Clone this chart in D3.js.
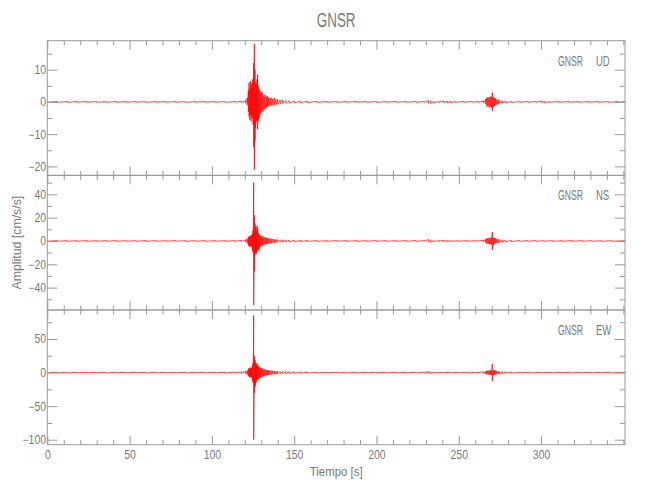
<!DOCTYPE html>
<html><head><meta charset="utf-8">
<script src="https://cdn.jsdelivr.net/npm/d3@7"></script>
<style>
body{margin:0;background:#fff}
text{font-family:"Liberation Sans",Arial,sans-serif;fill:#7a7a7a}
</style>
</head><body>
<svg id="c" width="650" height="500"></svg>
<script>
// ---------- data ----------
const chartTitle = "GNSR";
const station = "GNSR";
const components = ["UD", "NS", "EW"];
const xLabel = "Tiempo [s]";
const yLabel = "Amplitud [cm/s/s]";
const timeDomain = [0, 351];
const xMajorTicks = [0, 50, 100, 150, 200, 250, 300];
const udTicks = [-20, -10, 0, 10];
const nsTicks = [-40, -20, 0, 20, 40];
const ewTicks = [-100, -50, 0, 50];
const udRange = [-22.8, 19.0];
const nsRange = [-59.2, 56.3];
const ewRange = [-107.4, 93.2];

// envelope samples: [time s, max, min]
const udEnv = [[0,.1,-.1],[6,.12,-.1],[12,.1,-.12],[18,.1,-.1],[24,.12,-.1],[30,.1,-.1],[36,.1,-.12],[42,.12,-.1],[48,.1,-.1],[54,.1,-.1],[60,.12,-.12],[66,.1,-.1],[72,.1,-.1],[78,.12,-.1],[84,.1,-.12],[90,.1,-.1],[96,.12,-.1],[102,.1,-.1],[108,.1,-.12],[114,.12,-.1],[118,.2,-.2],[120.5,.4,-.4],[121.5,1.2,-1],[122.2,3.5,-3],[122.6,6,-4.5],[123,4,-5.5],[123.4,6.5,-4],[123.8,4.5,-6],[124.2,5.5,-4.5],[124.6,7,-5],[125,6,-7],[125.4,12,-14],[125.8,18,-21],[126.2,10,-12],[126.6,6,-8],[127,5.5,-6],[127.4,7,-5.5],[127.8,8.5,-8.5],[128.2,5,-6],[128.7,4,-5],[129.2,3.5,-4],[129.8,3,-3.5],[130.4,3.2,-3],[131,2.5,-3],[131.7,2,-2.5],[132.4,2.2,-2],[133.1,1.6,-1.8],[133.8,1.8,-1.5],[134.5,1.4,-1.2],[135.3,1.2,-1.3],[136.1,1.3,-1.1],[137,1,-1.1],[138,1.2,-.9],[139,.8,-.9],[140,.8,-.7],[141.5,.6,-.6],[143,.55,-.5],[145,.5,-.45],[147,.4,-.4],[150,.3,-.3],[154,.25,-.25],[158,.2,-.2],[164,.15,-.15],[170,.1,-.1],[176,.1,-.1],[182,.12,-.1],[188,.1,-.1],[194,.1,-.1],[200,.1,-.12],[206,.1,-.1],[212,.12,-.1],[218,.1,-.1],[224,.1,-.1],[229,.1,-.1],[231.5,.45,-.35],[233,.35,-.45],[235,.15,-.15],[238,.1,-.1],[241,.3,-.25],[243,.25,-.3],[245,.2,-.2],[248,.1,-.1],[253,.1,-.1],[258,.1,-.1],[262,.15,-.15],[265,.3,-.25],[266.3,.8,-.7],[267,1.2,-1.4],[267.7,1.5,-1.3],[268.4,1.4,-1.6],[269.1,1.7,-1.5],[269.8,1.5,-1.8],[270.4,2.9,-2.8],[271,1.5,-1.6],[271.7,1.2,-1.2],[272.4,1.1,-1],[273.2,.8,-.9],[274,.7,-.6],[275,.5,-.5],[276.5,.35,-.35],[278.5,.25,-.25],[282,.15,-.15],[287,.1,-.1],[292,.1,-.1],[297,.1,-.1],[300.5,.3,-.25],[302,.25,-.25],[305,.1,-.1],[311,.1,-.1],[317,.1,-.1],[323,.1,-.1],[329,.1,-.1],[335,.1,-.1],[341,.1,-.1],[347,.1,-.1],[351,.1,-.1]];

const nsEnv = [[0,.25,-.25],[6,.3,-.25],[12,.25,-.3],[18,.25,-.25],[24,.3,-.25],[30,.25,-.25],[36,.25,-.3],[42,.3,-.25],[48,.25,-.25],[54,.25,-.25],[60,.3,-.3],[66,.25,-.25],[72,.25,-.25],[78,.3,-.25],[84,.25,-.3],[90,.25,-.25],[96,.3,-.25],[102,.25,-.25],[108,.25,-.3],[114,.3,-.25],[118,.5,-.5],[120.5,1,-1],[121.5,2,-2],[122.2,3,-3.5],[122.6,4,-4.5],[123,3.5,-5],[123.4,4.5,-4],[123.8,4,-5],[124.2,5,-4.5],[124.6,6,-8],[125,9,-10],[125.4,50,-55],[125.8,22,-26],[126.2,15,-12],[126.6,12,-10],[127,9,-11],[127.4,13,-9],[127.8,11,-8],[128.2,7,-8],[128.7,6,-7],[129.2,5,-5.5],[129.8,4.5,-4],[130.4,4,-4.5],[131,4,-3.5],[131.7,3.5,-3],[132.4,3,-3],[133.1,2.8,-2.6],[133.8,2.5,-2.5],[134.5,2.2,-2.2],[135.3,2,-2.2],[136.1,2,-1.8],[137,1.8,-1.6],[138,1.5,-1.5],[139,1.3,-1.3],[140,1.2,-1.1],[141.5,1,-1],[143,.9,-.9],[145,.8,-.8],[147,.7,-.7],[150,.55,-.55],[154,.45,-.45],[158,.4,-.35],[164,.3,-.3],[170,.25,-.25],[176,.3,-.25],[182,.25,-.25],[188,.25,-.3],[194,.25,-.25],[200,.3,-.25],[206,.25,-.25],[212,.25,-.3],[218,.25,-.25],[224,.3,-.25],[229,.25,-.25],[231.5,1.2,-1],[233,1,-1.2],[235,.4,-.4],[238,.25,-.25],[241,.6,-.5],[243,.5,-.6],[245,.3,-.3],[250,.25,-.25],[255,.3,-.25],[260,.25,-.25],[265,.6,-.6],[266.3,1.5,-1.5],[267,2,-2.2],[267.7,2.5,-2.3],[268.4,2.4,-2.6],[269.1,3,-2.8],[269.8,2.8,-3.2],[270.4,7.7,-7.7],[271,3,-3.5],[271.7,2.5,-2.5],[272.4,2.2,-2],[273.2,1.8,-1.9],[274,1.5,-1.5],[275,1.2,-1.2],[276.5,1,-1],[278.5,.7,-.7],[282,.45,-.45],[287,.3,-.3],[292,.25,-.25],[297,.3,-.25],[302,.25,-.25],[307,.25,-.3],[313,.25,-.25],[319,.3,-.25],[325,.25,-.25],[331,.25,-.25],[337,.25,-.3],[343,.25,-.25],[351,.25,-.25]];

const ewEnv = [[0,.5,-.5],[6,.6,-.5],[12,.5,-.6],[18,.5,-.5],[24,.6,-.5],[30,.5,-.5],[36,.5,-.6],[42,.6,-.5],[48,.5,-.5],[54,.5,-.5],[60,.6,-.6],[66,.5,-.5],[72,.5,-.5],[78,.6,-.5],[84,.5,-.6],[90,.5,-.5],[96,.6,-.5],[102,.5,-.5],[108,.5,-.6],[114,.6,-.5],[118,1,-1],[120.5,2,-2],[121.5,3,-3],[122.2,5,-5],[122.6,7,-6],[123,6,-7],[123.4,7.5,-6],[123.8,6,-7.5],[124.2,7,-6],[124.6,10,-12],[125,14,-15],[125.4,85,-100],[125.8,25,-30],[126.2,19,-21],[126.6,15,-18],[127,12,-14],[127.4,14,-11],[127.8,11,-10],[128.2,10,-10],[128.7,8,-9],[129.2,8,-8],[129.8,7,-7],[130.4,6.5,-7],[131,6,-6],[131.7,5,-5],[132.4,4.5,-4.5],[133.1,4,-4.5],[133.8,3.8,-3.5],[134.5,3.5,-3.5],[135.3,3,-3.2],[136.1,3,-2.8],[137,2.8,-2.5],[138,2.5,-2.5],[139,2.2,-2.2],[140,2,-2],[141.5,1.8,-1.8],[143,1.7,-1.7],[145,1.6,-1.5],[147,1.4,-1.4],[150,1.2,-1.2],[154,1,-1],[158,.8,-.8],[164,.6,-.6],[170,.5,-.5],[176,.6,-.5],[182,.5,-.5],[188,.5,-.6],[194,.5,-.5],[200,.6,-.5],[206,.5,-.5],[212,.5,-.6],[218,.5,-.5],[224,.6,-.5],[229,.5,-.5],[231.5,1.4,-1.2],[233,1.2,-1.4],[235,.6,-.6],[240,.5,-.5],[245,.6,-.5],[250,.5,-.5],[255,.5,-.6],[260,.5,-.5],[265,1.2,-1.2],[266.3,2,-2],[267,2.5,-2.5],[267.7,3,-2.8],[268.4,2.8,-3.2],[269.1,3.5,-3.2],[269.8,3.2,-3.6],[270.4,13,-12.3],[271,4,-4],[271.7,3.5,-3],[272.4,3,-3],[273.2,2.5,-2.5],[274,2,-2],[275,1.8,-1.8],[276.5,1.5,-1.5],[278.5,1.1,-1.1],[282,.8,-.8],[288,.5,-.5],[294,.6,-.5],[300,.5,-.5],[306,.5,-.6],[312,.5,-.5],[318,.6,-.5],[324,.5,-.5],[330,.5,-.6],[336,.5,-.5],[342,.6,-.5],[351,.5,-.5]];

// ---------- layout ----------
const left = 47.3, right = 625;
const panelTops = [40.7, 175.3, 310];
const panelH = 134.7;
const axisColor = "#9a9a9a";

const panels = [
  {comp: components[0], env: udEnv, range: udRange, ticks: udTicks, minorStep: 5},
  {comp: components[1], env: nsEnv, range: nsRange, ticks: nsTicks, minorStep: 10},
  {comp: components[2], env: ewEnv, range: ewRange, ticks: ewTicks, minorStep: 25}
];

const svg = d3.select("#c");
const x = d3.scaleLinear().domain(timeDomain).range([left, right]);
const xMinor = d3.range(0, timeDomain[1], 10);

function styleAxis(g){
  g.select(".domain").remove();
  g.selectAll("line").attr("stroke", axisColor).attr("stroke-width", 1);
}

panels.forEach((p, i) => {
  const top = panelTops[i], bottom = top + panelH;
  const y = d3.scaleLinear().domain(p.range).range([bottom, top]);
  const minor = d3.range(Math.ceil(p.range[0] / p.minorStep) * p.minorStep, p.range[1], p.minorStep)
    .filter(v => !p.ticks.includes(v));

  // trace (min/max envelope drawn as zigzag)
  const pts = [];
  p.env.forEach(d => { pts.push([d[0], d[1]]); pts.push([d[0], d[2]]); });
  svg.append("path")
    .attr("d", d3.line().x(d => x(d[0])).y(d => y(d[1]))(pts))
    .attr("fill", "none").attr("stroke", "#ff0000").attr("stroke-width", 0.85)
    .attr("stroke-opacity", 0.85);

  // y axes left
  const gl = svg.append("g").attr("transform", `translate(${left},0)`);
  gl.call(d3.axisLeft(y).tickValues(p.ticks).tickSizeInner(-10).tickSizeOuter(0).tickPadding(1.5)
    .tickFormat(d3.format("d")));
  gl.selectAll("text").attr("font-size", 12).attr("transform", "scale(0.87,1)").style("fill", "#7a7a7a");
  styleAxis(gl);
  const glm = svg.append("g").attr("transform", `translate(${left},0)`);
  glm.call(d3.axisLeft(y).tickValues(minor).tickSizeInner(-5).tickSizeOuter(0).tickFormat(""));
  styleAxis(glm);
  // y axes right
  const gr = svg.append("g").attr("transform", `translate(${right},0)`);
  gr.call(d3.axisRight(y).tickValues(p.ticks).tickSizeInner(-10).tickSizeOuter(0).tickFormat(""));
  styleAxis(gr);
  const grm = svg.append("g").attr("transform", `translate(${right},0)`);
  grm.call(d3.axisRight(y).tickValues(minor).tickSizeInner(-5).tickSizeOuter(0).tickFormat(""));
  styleAxis(grm);

  // x axes top/bottom
  [[d3.axisTop, top], [d3.axisBottom, bottom]].forEach(([ax, yy]) => {
    const g = svg.append("g").attr("transform", `translate(0,${yy})`);
    const isLabeled = (ax === d3.axisBottom && i === panels.length - 1);
    g.call(ax(x).tickValues(xMajorTicks).tickSizeInner(-9).tickSizeOuter(0).tickPadding(6)
      .tickFormat(isLabeled ? d3.format("d") : ""));
    g.selectAll("text").attr("font-size", 12).attr("transform", "scale(0.87,1)").style("fill", "#7a7a7a");
    styleAxis(g);
    const gm = svg.append("g").attr("transform", `translate(0,${yy})`);
    gm.call(ax(x).tickValues(xMinor.filter(v => !xMajorTicks.includes(v))).tickSizeInner(-4.5).tickSizeOuter(0).tickFormat(""));
    styleAxis(gm);
  });

  // frame
  svg.append("rect").attr("x", left).attr("y", top).attr("width", right - left).attr("height", panelH)
    .attr("fill", "none").attr("stroke", axisColor).attr("stroke-width", 1);

  // panel label
  svg.append("text").attr("transform", `translate(558,${top + 25}) scale(0.62,1)`)
    .attr("font-size", 14).text(station);
  svg.append("text").attr("transform", `translate(596,${top + 25}) scale(0.68,1)`)
    .attr("font-size", 14).text(p.comp);
});

// title and axis titles
svg.append("text").attr("transform", `translate(${(left + right) / 2},27) scale(0.64,1)`)
  .attr("text-anchor", "middle").attr("font-size", 21).text(chartTitle);
svg.append("text").attr("transform", `translate(${(left + right) / 2},476) scale(0.88,1)`)
  .attr("text-anchor", "middle").attr("font-size", 13).text(xLabel);
svg.append("text").attr("transform", `translate(21,${panelTops[1] + panelH / 2}) rotate(-90) scale(0.95,1)`)
  .attr("text-anchor", "middle").attr("font-size", 13).text(yLabel);
</script>
</body></html>
